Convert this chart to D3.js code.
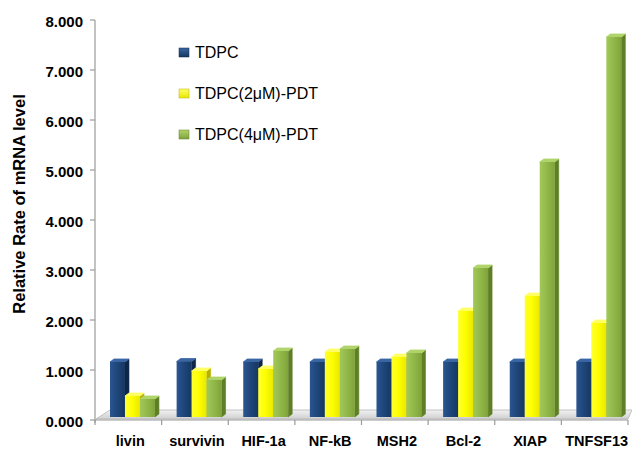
<!DOCTYPE html>
<html>
<head>
<meta charset="utf-8">
<script src="https://cdn.jsdelivr.net/npm/d3@7"></script>
<style>
  body { margin: 0; background: #fff; }
  text { font-family: "Liberation Sans", Arial, sans-serif; fill: #000; }
</style>
</head>
<body>
<svg id="chart" width="632" height="449"></svg>
<script>
// Relative mRNA levels per gene, one array per treatment
const categories = ["livin", "survivin", "HIF-1a", "NF-kB", "MSH2", "Bcl-2", "XIAP", "TNFSF13"];
const seriesNames = ["TDPC", "TDPC(2\u03bcM)-PDT", "TDPC(4\u03bcM)-PDT"];
const tdpc = [1.10, 1.11, 1.10, 1.10, 1.10, 1.10, 1.10, 1.10];
const pdt2 = [0.42, 0.92, 0.96, 1.30, 1.20, 2.12, 2.42, 1.88];
const pdt4 = [0.36, 0.74, 1.32, 1.36, 1.28, 2.98, 5.10, 7.60];
const yTicks = [0, 1, 2, 3, 4, 5, 6, 7, 8];
const yTitle = "Relative Rate of mRNA level";

const seriesValues = [tdpc, pdt2, pdt4];

// shading for each series: front gradient (light → dark), side, top
const palette = [
  { light: "#2b5591", mid: "#1f477c", dark: "#163861", side: "#0f2747", top: "#3a66a3" },
  { light: "#ffff33", mid: "#ffff00", dark: "#e8e800", side: "#b8b000", top: "#ffff66" },
  { light: "#a2c85a", mid: "#93b94a", dark: "#7fa33a", side: "#5f7f26", top: "#b0d46a" }
];

const svg = d3.select("#chart");
const defs = svg.append("defs");

const y = d3.scaleLinear().domain([0, 8]).range([420, 20]);
const x0 = d3.scaleBand().domain(categories).range([95, 628]).padding(0);
const bw = x0.bandwidth();
const x1 = d3.scaleBand().domain(seriesNames).range([bw * 0.225, bw * 0.9]).padding(0);

const dx = 4, dy = 3, inset = 3; // 3D offsets for bars

palette.forEach((p, i) => {
  const g = defs.append("linearGradient").attr("id", "front" + i)
    .attr("x1", 0).attr("x2", 1).attr("y1", 0).attr("y2", 0);
  g.append("stop").attr("offset", "0%").attr("stop-color", p.light);
  g.append("stop").attr("offset", "45%").attr("stop-color", p.mid);
  g.append("stop").attr("offset", "100%").attr("stop-color", p.dark);
  const m = defs.append("linearGradient").attr("id", "mark" + i)
    .attr("x1", 0).attr("x2", 0).attr("y1", 0).attr("y2", 1);
  m.append("stop").attr("offset", "0%").attr("stop-color", p.top);
  m.append("stop").attr("offset", "100%").attr("stop-color", p.dark);
});

const floorGrad = defs.append("linearGradient").attr("id", "floorGrad")
  .attr("x1", 0).attr("x2", 0).attr("y1", 0).attr("y2", 1);
floorGrad.append("stop").attr("offset", "0%").attr("stop-color", "#f2f2f2");
floorGrad.append("stop").attr("offset", "100%").attr("stop-color", "#cfcfcf");

// floor of the plot
const fx0 = x0.range()[0], fx1 = x0.range()[1];
const fy = y(0);
svg.append("path")
  .attr("d", `M${fx0 + 1},${fy - 1} L${fx0 + 15},${fy - 10} L${632},${fy - 10} L${fx1},${fy - 1} Z`)
  .attr("fill", "url(#floorGrad)")
  .attr("stroke", "#b5b5b5").attr("stroke-width", 0.8);

// bars
const groups = svg.append("g").selectAll("g")
  .data(categories)
  .join("g")
  .attr("transform", d => `translate(${x0(d)},0)`);

groups.each(function (cat, ci) {
  const g = d3.select(this);
  seriesNames.forEach((s, si) => {
    const v = seriesValues[si][ci];
    const p = palette[si];
    const bx = x1(s), w = x1.bandwidth();
    const top = y(v) - inset, bot = y(0) - inset;
    g.append("path")
      .attr("d", `M${bx + w},${top} L${bx + w + dx},${top - dy} L${bx + w + dx},${bot - dy} L${bx + w},${bot} Z`)
      .attr("fill", p.side).attr("stroke", p.side).attr("stroke-width", 0.6).attr("stroke-linejoin", "round");
    g.append("path")
      .attr("d", `M${bx},${top} L${bx + dx},${top - dy} L${bx + w + dx},${top - dy} L${bx + w},${top} Z`)
      .attr("fill", p.top).attr("stroke", p.top).attr("stroke-width", 0.8).attr("stroke-linejoin", "round");
    g.append("rect")
      .attr("x", bx).attr("y", top)
      .attr("width", w).attr("height", bot - top)
      .attr("fill", `url(#front${si})`);
  });
});

// axes
const axisColor = "#9a9a9a";
svg.append("line").attr("x1", 95).attr("x2", 95).attr("y1", y(8)).attr("y2", y(0) + 3)
  .attr("stroke", axisColor).attr("stroke-width", 1.2);
svg.append("line").attr("x1", 95).attr("x2", fx1).attr("y1", y(0)).attr("y2", y(0))
  .attr("stroke", axisColor).attr("stroke-width", 1.2);

const yAxis = svg.append("g");
yAxis.selectAll("line").data(yTicks).join("line")
  .attr("x1", 90).attr("x2", 95).attr("y1", d => y(d)).attr("y2", d => y(d))
  .attr("stroke", axisColor).attr("stroke-width", 1.2);
yAxis.selectAll("text").data(yTicks).join("text")
  .attr("x", 83).attr("y", d => y(d) + 1)
  .attr("text-anchor", "end").attr("dominant-baseline", "central")
  .style("font-weight", "bold").style("font-size", "15px")
  .text(d => d3.format(".3f")(d));

const bounds = categories.map(c => x0(c)).concat([fx1]);
svg.append("g").selectAll("line").data(bounds).join("line")
  .attr("x1", d => d).attr("x2", d => d).attr("y1", y(0)).attr("y2", y(0) + 5)
  .attr("stroke", axisColor).attr("stroke-width", 1.2);

svg.append("g").selectAll("text").data(categories).join("text")
  .attr("x", d => x0(d) + bw / 2 + 2).attr("y", 446)
  .attr("text-anchor", "middle")
  .style("font-weight", "bold").style("font-size", "14.5px")
  .text(d => d);

svg.append("text")
  .attr("transform", "translate(19,204) rotate(-90)")
  .attr("text-anchor", "middle").attr("dominant-baseline", "central")
  .style("font-weight", "bold").style("font-size", "16.5px")
  .text(yTitle);

// legend
const legend = svg.append("g").selectAll("g").data(seriesNames).join("g")
  .attr("transform", (d, i) => `translate(179,${58 + i * 41})`);
legend.append("rect").attr("x", 0).attr("y", -10).attr("width", 10).attr("height", 9)
  .attr("fill", (d, i) => `url(#mark${i})`)
  .attr("stroke", (d, i) => palette[i].side).attr("stroke-width", 0.5);
legend.append("text").attr("x", 16).attr("y", 0)
  .style("font-size", "16px")
  .text(d => d);
</script>
</body>
</html>
